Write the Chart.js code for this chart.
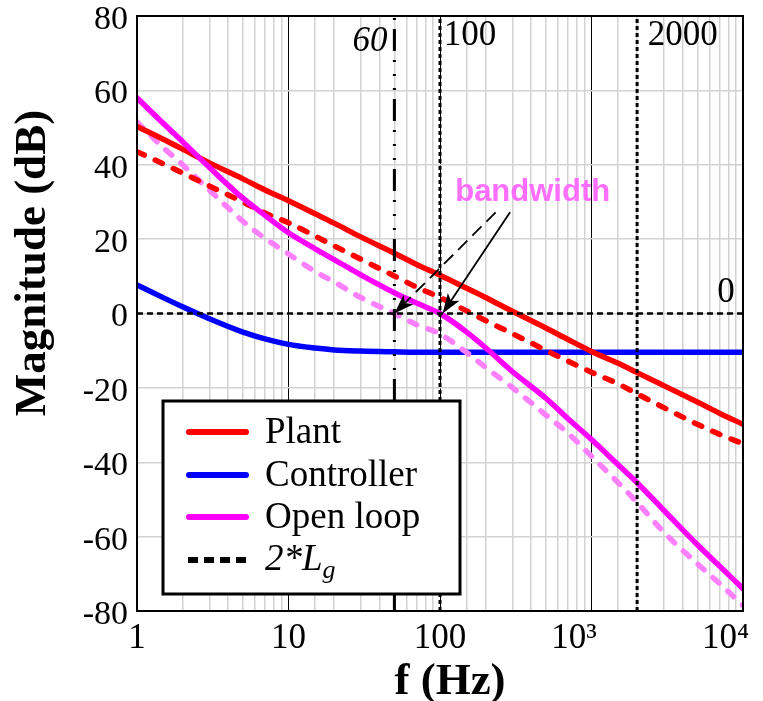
<!DOCTYPE html>
<html><head><meta charset="utf-8">
<script src="https://cdn.jsdelivr.net/npm/chart.js@4/dist/chart.umd.min.js"></script>
<style>html,body{margin:0;padding:0;background:#fff;}canvas{display:block;}</style>
</head><body>
<canvas id="c" width="763" height="701"></canvas>
<script>
// ---------- data ----------
const freqs = [1,1.5,2,3,5,7,10,15,20,30,50,70,100,150,200,300,500,700,1000,1500,2000,3000,5000,7000,10000];
const plant = [50.3,46.8,44.2,40.5,36.2,33.2,30.3,26.8,24.3,20.6,16.2,13.2,10.3,6.8,4.3,0.6,-3.9,-7.0,-10.2,-13.4,-15.9,-19.4,-23.8,-26.8,-29.8];
const plant2Lg = [43.5,40.2,37.8,34.3,30,27,24.4,20.8,18.2,14.6,10.1,7.1,4.3,0.7,-1.9,-5.4,-9.9,-12.8,-15.8,-18.9,-21.6,-25.3,-29.8,-32.5,-35];
const controller = [7.7,4.2,1.8,-1.4,-5.0,-6.8,-8.3,-9.3,-9.8,-10.1,-10.3,-10.4,-10.4,-10.4,-10.4,-10.4,-10.4,-10.4,-10.4,-10.4,-10.4,-10.4,-10.4,-10.4,-10.4];
const openLoop = [58,51,46.2,39.3,31,26.4,21.7,17.4,14.5,10.4,5.6,2.8,0,-5.0,-9.2,-15.6,-22.8,-28.3,-33.9,-40.7,-45.5,-52.9,-62.2,-67.9,-74];
const openLoop2Lg = [51.5,44.5,40,33.2,24.8,20.2,16,11.3,8.5,4.3,0,-3,-5.5,-10.5,-14.5,-19.9,-27.3,-32.2,-38.4,-45.5,-50.8,-58.8,-67.3,-72.6,-78.5];

const markerFreqs = [50, 100, 2000];
const markerLabels = ['60', '100', '2000'];
const zeroLevel = 0;

// superscript labels padded on the right so that "10" ends at the tick
const xTickLabels = ['1', '10', '100', '10³\u2007\u2007', '10⁴\u2007\u2007'];
const yTicks = [-80, -60, -40, -20, 0, 20, 40, 60, 80];

const legendLabels = ['Plant', 'Controller', 'Open loop'];
const annotationText = 'bandwidth';
// arrows: [fromFreq, fromDb, toFreq, toDb]
const arrowDashed = [233, 27.2, 50, 0];
const arrowSolid = [290, 27.2, 104, 0];

// ---------- styling ----------
const SERIF = '"Liberation Serif","Times New Roman",serif';
const SANS = '"Liberation Sans",Arial,sans-serif';
const RED = '#ff0000', BLUE = '#0000ff', MAG = '#ff00ff', PINK = '#ff80ff';

const mk = ys => freqs.map((f, i) => ({x: f, y: ys[i]}));
const isDecade = v => { const l = Math.log10(v); return Math.abs(l - Math.round(l)) < 1e-9; };

const lineBase = {pointRadius: 0, borderWidth: 5.5, borderCapStyle: 'round', borderJoinStyle: 'round', fill: false, cubicInterpolationMode: 'monotone'};

const datasets = [
  Object.assign({}, lineBase, {label: 'Open loop', data: mk(openLoop), borderColor: MAG, order: 1}),
  Object.assign({}, lineBase, {label: 'Plant', data: mk(plant), borderColor: RED, order: 2}),
  Object.assign({}, lineBase, {label: 'Plant 2Lg', data: mk(plant2Lg), borderColor: RED, borderDash: [8, 12], order: 3}),
  Object.assign({}, lineBase, {label: 'Open loop 2Lg', data: mk(openLoop2Lg), borderColor: PINK, borderDash: [8, 12], order: 4}),
  Object.assign({}, lineBase, {label: 'Controller', data: mk(controller), borderColor: BLUE, order: 5}),
  // reference lines
  {label: 'zero', data: [{x: freqs[0], y: zeroLevel}, {x: freqs[freqs.length - 1], y: zeroLevel}], borderColor: '#000', borderWidth: 2.5, borderDash: [6, 4], pointRadius: 0, order: 0},
  {label: 'm0', data: [{x: markerFreqs[0], y: -80}, {x: markerFreqs[0], y: 80}], borderColor: '#000', borderWidth: 3, borderDash: [22, 9, 2, 12, 2, 12, 2, 9], pointRadius: 0, order: 0},
  {label: 'm1', data: [{x: markerFreqs[1], y: -80}, {x: markerFreqs[1], y: 80}], borderColor: '#000', borderWidth: 3, borderDash: [4, 3], pointRadius: 0, order: 0},
  {label: 'm2', data: [{x: markerFreqs[2], y: -80}, {x: markerFreqs[2], y: 80}], borderColor: '#000', borderWidth: 3, borderDash: [4, 3], pointRadius: 0, order: 0},
];

function arrow(ctx, xs, ys, x0, y0, x1, y1, dashed) {
  const ax = xs.getPixelForValue(x0), ay = ys.getPixelForValue(y0);
  const bx = xs.getPixelForValue(x1), by = ys.getPixelForValue(y1);
  const ang = Math.atan2(by - ay, bx - ax);
  const L = 20, W = 7;
  const hx = bx - L * Math.cos(ang), hy = by - L * Math.sin(ang);
  ctx.save();
  ctx.strokeStyle = '#000'; ctx.fillStyle = '#000'; ctx.lineWidth = 1.8;
  ctx.setLineDash(dashed ? [13, 7] : []);
  ctx.beginPath(); ctx.moveTo(ax, ay); ctx.lineTo(hx + 6 * Math.cos(ang), hy + 6 * Math.sin(ang)); ctx.stroke();
  ctx.setLineDash([]);
  ctx.beginPath();
  ctx.moveTo(bx, by);
  ctx.lineTo(hx - W * Math.sin(ang), hy + W * Math.cos(ang));
  ctx.lineTo(hx + 5 * Math.cos(ang), hy + 5 * Math.sin(ang));
  ctx.lineTo(hx + W * Math.sin(ang), hy - W * Math.cos(ang));
  ctx.closePath(); ctx.fill();
  ctx.restore();
}

const decor = {
  id: 'decor',
  afterDatasetsDraw(chart) {
    const ctx = chart.ctx, a = chart.chartArea;
    const xs = chart.scales.x, ys = chart.scales.y;
    ctx.save();
    // frame
    ctx.strokeStyle = '#000'; ctx.lineWidth = 2;
    ctx.strokeRect(a.left, a.top, a.right - a.left, a.bottom - a.top);
    // marker texts
    ctx.fillStyle = '#000'; ctx.textBaseline = 'middle';
    ctx.font = 'italic 35px ' + SERIF; ctx.textAlign = 'right';
    ctx.fillText(markerLabels[0], xs.getPixelForValue(45), ys.getPixelForValue(73));
    ctx.font = '35px ' + SERIF; ctx.textAlign = 'left';
    ctx.fillText(markerLabels[1], xs.getPixelForValue(106), ys.getPixelForValue(74.8));
    ctx.fillText(markerLabels[2], xs.getPixelForValue(2354), ys.getPixelForValue(74.8));
    ctx.textAlign = 'center';
    ctx.fillText(String(zeroLevel), xs.getPixelForValue(7713), ys.getPixelForValue(5.6));
    // bandwidth annotation
    ctx.font = 'bold 31px ' + SANS; ctx.fillStyle = '#ff6eff';
    ctx.fillText(annotationText, xs.getPixelForValue(409), ys.getPixelForValue(32.6));
    arrow(ctx, xs, ys, arrowDashed[0], arrowDashed[1], arrowDashed[2], arrowDashed[3], true);
    arrow(ctx, xs, ys, arrowSolid[0], arrowSolid[1], arrowSolid[2], arrowSolid[3], false);

    // legend
    const bx = 163, by = 401, bw = 297, bh = 193;
    ctx.fillStyle = '#fff'; ctx.fillRect(bx, by, bw, bh);
    ctx.strokeStyle = '#000'; ctx.lineWidth = 3; ctx.strokeRect(bx, by, bw, bh);
    const rows = [432, 475, 517, 560];
    const cols = [RED, BLUE, MAG];
    ctx.lineCap = 'round'; ctx.lineWidth = 6;
    for (let i = 0; i < 3; i++) {
      ctx.strokeStyle = cols[i];
      ctx.beginPath(); ctx.moveTo(189, rows[i]); ctx.lineTo(246, rows[i]); ctx.stroke();
      ctx.fillStyle = '#000'; ctx.font = '37px ' + SERIF; ctx.textAlign = 'left'; ctx.textBaseline = 'middle';
      ctx.fillText(legendLabels[i], 265, rows[i] + 1);
    }
    ctx.strokeStyle = '#000'; ctx.lineCap = 'butt'; ctx.setLineDash([10, 6]);
    ctx.beginPath(); ctx.moveTo(188, rows[3]); ctx.lineTo(250, rows[3]); ctx.stroke();
    ctx.setLineDash([]);
    ctx.fillStyle = '#000';
    ctx.font = 'italic 37px ' + SERIF;
    let tx = 265;
    ctx.fillText('2*', tx, rows[3]); tx += ctx.measureText('2*').width;
    ctx.fillText('L', tx, rows[3]); tx += ctx.measureText('L').width;
    ctx.font = 'italic 26px ' + SERIF;
    ctx.fillText('g', tx, rows[3] + 11);
    ctx.restore();
  },
  afterDraw(chart) {
    const ctx = chart.ctx;
    ctx.save();
    ctx.fillStyle = '#000';
    ctx.font = 'bold 45px ' + SERIF;
    ctx.textAlign = 'center'; ctx.textBaseline = 'middle';
    ctx.fillText('f (Hz)', 450, 682);
    ctx.translate(33, 263); ctx.rotate(-Math.PI / 2);
    ctx.fillText('Magnitude (dB)', 0, 0);
    ctx.restore();
  }
};

new Chart(document.getElementById('c'), {
  type: 'line',
  data: {datasets},
  options: {
    responsive: false, animation: false, devicePixelRatio: 1,
    layout: {padding: {top: 16, right: 20, left: 0, bottom: 0}},
    plugins: {legend: {display: false}, tooltip: {enabled: false}},
    scales: {
      x: {
        type: 'logarithmic', min: 1, max: 10000,
        afterFit: s => { s.height = 90; s.paddingLeft = 0; s.paddingRight = 0; },
        grid: {drawTicks: false, color: c => (c.tick && isDecade(c.tick.value)) ? '#000' : '#d2d2d2', lineWidth: c => (c.tick && isDecade(c.tick.value)) ? 1 : 1.5},
        border: {display: true, color: '#000', width: 2},
        ticks: {autoSkip: false, maxRotation: 0, padding: 7, color: '#000', font: {family: SERIF, size: 35},
          callback: v => isDecade(v) ? xTickLabels[Math.round(Math.log10(v))] : ''}
      },
      y: {
        type: 'linear', min: -80, max: 80,
        afterFit: s => { s.width = 137; s.paddingTop = 0; s.paddingBottom = 0; },
        afterBuildTicks: s => { s.ticks = yTicks.map(v => ({value: v})); },
        grid: {drawTicks: false, color: '#d2d2d2', lineWidth: 1.5},
        border: {display: true, color: '#000', width: 2},
        ticks: {padding: 9, labelOffset: 4, color: '#000', font: {family: SERIF, size: 34}}
      }
    }
  },
  plugins: [decor]
});
</script>
</body></html>
